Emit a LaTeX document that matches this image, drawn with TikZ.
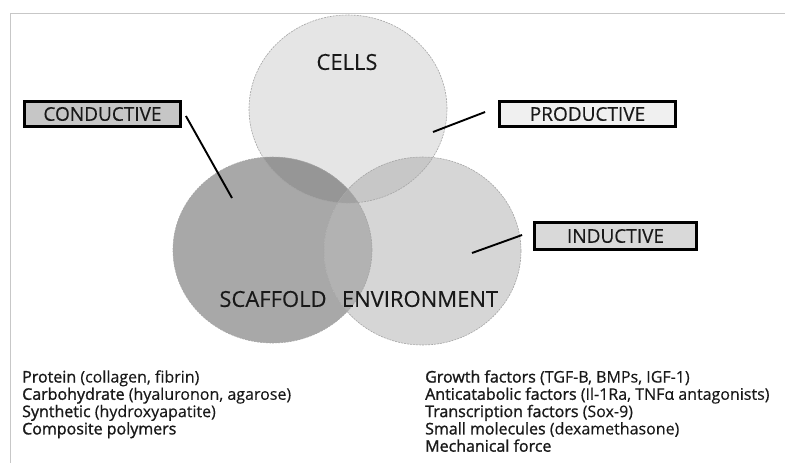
\documentclass[tikz,border=0pt]{standalone}
\usepackage{fontspec}
\setmainfont{Open Sans}[FakeBold=0.2]
\newfontfamily\semib[FakeBold=1.3]{Open Sans}
\definecolor{cellsC}{gray}{0.90}
\definecolor{scafC}{gray}{0.66}
\definecolor{envC}{gray}{0.84}
\definecolor{csC}{gray}{0.59}
\definecolor{ceC}{gray}{0.78}
\definecolor{seC}{gray}{0.70}
\definecolor{cseC}{gray}{0.63}
\definecolor{frameC}{gray}{0.78}
\definecolor{txtC}{gray}{0.10}
\begin{document}
\begin{tikzpicture}[x=1pt,y=-1pt,
  vennline/.style={draw=gray!70, line width=0.6pt, dash pattern=on 2pt off 1pt},
  tagbox/.style={draw=black, line width=2.8pt, inner sep=0pt, minimum height=25.5pt,
     font=\fontsize{19}{21}\selectfont, text=txtC},
  bigtext/.style={inner sep=0pt, font=\fontsize{22}{24}\selectfont, text=txtC},
  itemtext/.style={anchor=base west, inner sep=0pt, font=\fontsize{16}{17}\selectfont, text=txtC},
  linkline/.style={line width=1.9pt, black}]
\useasboundingbox (0,0) rectangle (785,463);
\fill[white] (0,0) rectangle (785,463);
\draw[frameC, line width=1pt] (10,463) -- (10,13) -- (785,13);

% base fills
\fill[cellsC] (348,109) ellipse [x radius=99pt, y radius=94pt];
\fill[scafC] (272.5,250) ellipse [x radius=99.5pt, y radius=93pt];
\fill[envC] (422.5,251) ellipse [x radius=98.5pt, y radius=94pt];
% pairwise overlaps
\begin{scope}
  \clip (348,109) ellipse [x radius=99pt, y radius=94pt];
  \fill[csC] (272.5,250) ellipse [x radius=99.5pt, y radius=93pt];
  \fill[ceC] (422.5,251) ellipse [x radius=98.5pt, y radius=94pt];
\end{scope}
\begin{scope}
  \clip (272.5,250) ellipse [x radius=99.5pt, y radius=93pt];
  \fill[seC] (422.5,251) ellipse [x radius=98.5pt, y radius=94pt];
  \clip (348,109) ellipse [x radius=99pt, y radius=94pt];
  \fill[cseC] (422.5,251) ellipse [x radius=98.5pt, y radius=94pt];
\end{scope}
% outlines
\draw[vennline] (348,109) ellipse [x radius=99pt, y radius=94pt];
\draw[vennline] (272.5,250) ellipse [x radius=99.5pt, y radius=93pt];
\draw[vennline] (422.5,251) ellipse [x radius=98.5pt, y radius=94pt];

% circle labels
\node[bigtext] (cells) at (347,62) {CELLS};
\node[bigtext] (scaffold) at (273,299) {SCAFFOLD};
\node[bigtext] (environment) at (420,299) {ENVIRONMENT};

% tag boxes
\node[tagbox, fill=gray!45, minimum width=156pt] (conductive) at (102.5,114) {CONDUCTIVE};
\node[tagbox, fill=gray!12, minimum width=176pt] (productive) at (587.5,114) {PRODUCTIVE};
\node[tagbox, fill=gray!30, minimum width=162pt, minimum height=27.5pt] (inductive) at (615.5,236) {INDUCTIVE};

% connector ends
\coordinate (condEnd) at (232,198);
\coordinate (prodEnd) at (433,132);
\coordinate (indEnd) at (472,253);
\draw[linkline] ([shift={(4pt,-2pt)}]conductive.east) -- (condEnd);
\draw[linkline] ([xshift=-13pt,yshift=2pt]productive.west) -- (prodEnd);
\draw[linkline] ([xshift=-11pt,yshift=1pt]inductive.west) -- (indEnd);

% lists
\node[itemtext] (l1) at (22,382.5) {{\semib Protein} (collagen, fibrin)};
\node[itemtext] (l2) at (22,399.8) {{\semib Carbohydrate} (hyaluronon, agarose)};
\node[itemtext] (l3) at (22,417.1) {{\semib Synthetic} (hydroxyapatite)};
\node[itemtext] (l4) at (22,434.4) {{\semib Composite polymers}};

\node[itemtext] (r1) at (425,382.5) {{\semib Growth factors} (TGF-B, BMPs, IGF-1)};
\node[itemtext] (r2) at (425,399.8) {{\semib Anticatabolic factors} (Il-1Ra, TNFα antagonists)};
\node[itemtext] (r3) at (425,417.1) {{\semib Transcription factors} (Sox-9)};
\node[itemtext] (r4) at (425,434.4) {{\semib Small molecules} (dexamethasone)};
\node[itemtext] (r5) at (425,451.7) {{\semib Mechanical force}};
\end{tikzpicture}
\end{document}
